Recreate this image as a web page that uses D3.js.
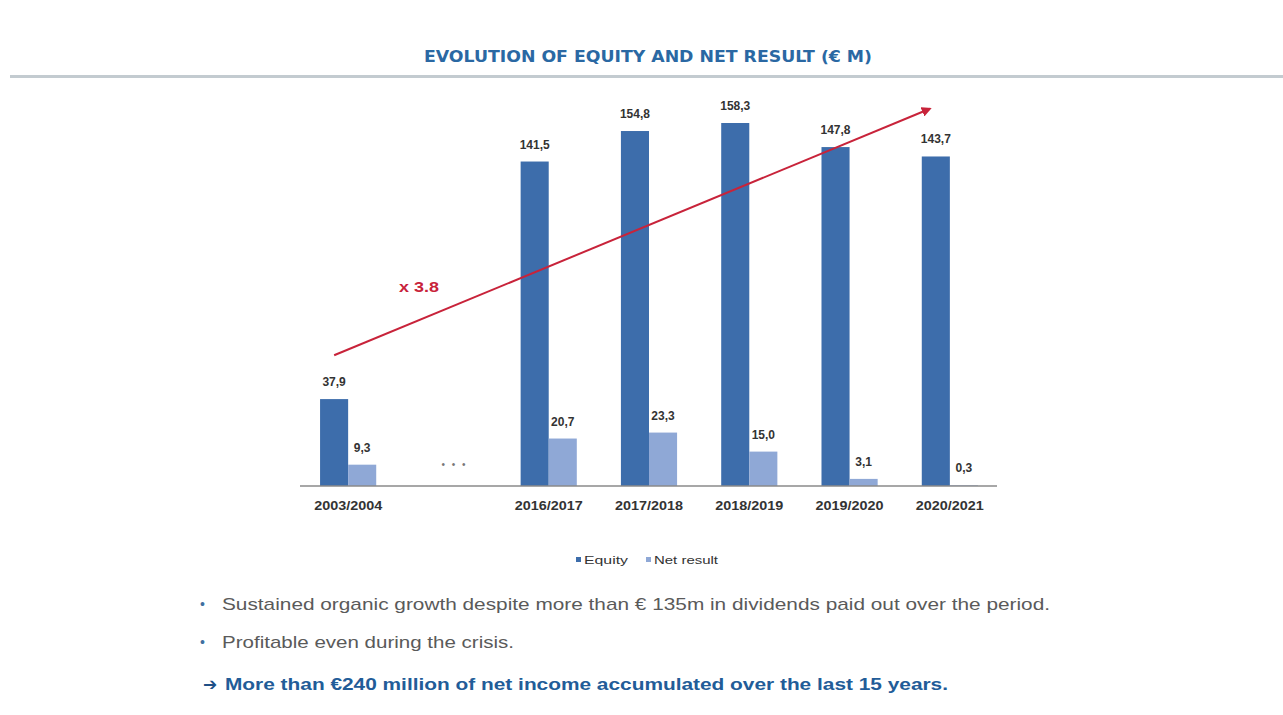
<!DOCTYPE html>
<html>
<head>
<meta charset="utf-8">
<script src="https://cdn.jsdelivr.net/npm/d3@7/dist/d3.min.js"></script>
<style>
  html, body { margin: 0; padding: 0; background: #ffffff; }
  svg { display: block; }
</style>
</head>
<body>
<svg id="chart" width="1283" height="715"></svg>
<script>
// Fiscal years; the "gap" slot stands for the skipped years between 2003/2004 and 2016/2017
const categories = ["2003/2004", "gap", "2016/2017", "2017/2018", "2018/2019", "2019/2020", "2020/2021"];
const equity    = [37.9, null, 141.5, 154.8, 158.3, 147.8, 143.7];
const netResult = [9.3,  null, 20.7,  23.3,  15.0,  3.1,   0.3];
const seriesNames = ["Equity", "Net result"];
const growthLabel = "x 3.8";
// Trend arrow endpoints in data space: [category index, value]
const trendStart = [0, 57];
const trendEnd   = [6, 164.5];

const title = "EVOLUTION OF EQUITY AND NET RESULT (€ M)";
const bullets = [
  "Sustained organic growth despite more than € 135m in dividends paid out over the period.",
  "Profitable even during the crisis."
];
const conclusion = "More than €240 million of net income accumulated over the last 15 years.";

const colors = { equity: "#3d6dab", net: "#8fa8d6", title: "#2a68a3", red: "#c8233a" };
const fmt = v => d3.format(".1f")(v).replace(".", ",");

const svg = d3.select("#chart");

// Title and rule beneath it
svg.append("text")
  .attr("x", 648).attr("y", 62)
  .attr("text-anchor", "middle")
  .attr("font-family", "'Liberation Sans Narrow', 'DejaVu Sans Condensed', 'Liberation Sans', sans-serif")
  .attr("font-weight", "bold")
  .attr("font-size", 15)
  .attr("textLength", 448)
  .attr("lengthAdjust", "spacingAndGlyphs")
  .attr("fill", colors.title)
  .text(title);

svg.append("rect")
  .attr("x", 10).attr("y", 75).attr("width", 1273).attr("height", 3)
  .attr("fill", "#c3cbd0");

// Scales
const x = d3.scaleBand().domain(categories).range([298, 1000]).paddingInner(0).paddingOuter(0);
const inner = d3.scaleBand().domain(["equity", "net"]).range([x.bandwidth() * 0.22, x.bandwidth() * 0.78]);
const y = d3.scaleLinear().domain([0, 160]).range([486, 119.1]);

const g = svg.append("g");

const rows = categories.map((c, i) => ({ c, i, equity: equity[i], net: netResult[i] }))
  .filter(d => d.equity !== null);

// Equity bars
g.selectAll("rect.eq").data(rows).join("rect")
  .attr("class", "eq")
  .attr("x", d => x(d.c) + inner("equity"))
  .attr("width", inner.bandwidth())
  .attr("y", d => y(d.equity))
  .attr("height", d => y(0) - y(d.equity))
  .attr("fill", colors.equity);

// Net result bars
g.selectAll("rect.net").data(rows).join("rect")
  .attr("class", "net")
  .attr("x", d => x(d.c) + inner("net"))
  .attr("width", inner.bandwidth())
  .attr("y", d => y(d.net))
  .attr("height", d => y(0) - y(d.net))
  .attr("fill", colors.net);

const labelFont = "'Liberation Sans', Arial, sans-serif";

// Value labels
g.selectAll("text.eqv").data(rows).join("text")
  .attr("x", d => x(d.c) + inner("equity") + inner.bandwidth() / 2)
  .attr("y", d => y(d.equity) - 13)
  .attr("text-anchor", "middle")
  .attr("font-family", labelFont).attr("font-size", 12).attr("font-weight", "bold")
  .attr("fill", "#333")
  .text(d => fmt(d.equity));

g.selectAll("text.netv").data(rows).join("text")
  .attr("x", d => x(d.c) + inner("net") + inner.bandwidth() / 2)
  .attr("y", d => y(d.net) - 13)
  .attr("text-anchor", "middle")
  .attr("font-family", labelFont).attr("font-size", 12).attr("font-weight", "bold")
  .attr("fill", "#333")
  .text(d => fmt(d.net));

// Category axis
const axis = d3.axisBottom(x).tickSize(0).tickPadding(15)
  .tickFormat(d => d === "gap" ? "" : d);
const ax = svg.append("g").attr("transform", `translate(0,${y(0)})`).call(axis);
ax.select(".domain").attr("stroke", "#8a8a8a").attr("stroke-width", 1.5)
  .attr("d", `M${x.range()[0] + 2},0H${x.range()[1] - 3}`);
ax.selectAll("text")
  .attr("font-family", labelFont).attr("font-size", 12).attr("font-weight", "bold")
  .attr("fill", "#333")
  .filter(d => d !== "gap")
  .attr("textLength", 68).attr("lengthAdjust", "spacingAndGlyphs");

// Ellipsis for the skipped years
svg.append("text")
  .attr("x", x("gap") + x.bandwidth() / 2 + 6)
  .attr("y", y(0) - 18)
  .attr("text-anchor", "middle")
  .attr("font-family", labelFont).attr("font-size", 10)
  .attr("fill", "#777")
  .attr("letter-spacing", 2)
  .text("• • •");

// Growth arrow
const defs = svg.append("defs");
defs.append("marker")
  .attr("id", "arrowhead")
  .attr("viewBox", "0 0 10 10")
  .attr("refX", 8).attr("refY", 5)
  .attr("markerWidth", 5).attr("markerHeight", 5)
  .attr("orient", "auto")
  .append("path").attr("d", "M0,0L10,5L0,10z").attr("fill", colors.red);

const cx = i => x(categories[i]) + x.bandwidth() / 2;
svg.append("line")
  .attr("x1", cx(trendStart[0]) - 14).attr("y1", y(trendStart[1]))
  .attr("x2", cx(trendEnd[0]) - 20).attr("y2", y(trendEnd[1]))
  .attr("stroke", colors.red).attr("stroke-width", 2)
  .attr("marker-end", "url(#arrowhead)");

svg.append("text")
  .attr("x", 419).attr("y", 292)
  .attr("text-anchor", "middle")
  .attr("font-family", labelFont).attr("font-weight", "bold").attr("font-size", 14)
  .attr("textLength", 40).attr("lengthAdjust", "spacingAndGlyphs")
  .attr("fill", colors.red)
  .text(growthLabel);

// Legend
const legend = svg.append("g").attr("font-family", labelFont).attr("font-size", 11).attr("fill", "#333");
const legendItems = [
  { name: seriesNames[0], color: colors.equity, x: 576, w: 44 },
  { name: seriesNames[1], color: colors.net, x: 646, w: 64 }
];
legendItems.forEach(it => {
  legend.append("rect").attr("x", it.x).attr("y", 557).attr("width", 5).attr("height", 5).attr("fill", it.color);
  legend.append("text").attr("x", it.x + 8).attr("y", 564)
    .attr("textLength", it.w).attr("lengthAdjust", "spacingAndGlyphs").text(it.name);
});

// Commentary
const bodyFont = "'Liberation Sans', Arial, sans-serif";
const bulletWidths = [828, 292];
bullets.forEach((b, i) => {
  const yy = 610 + i * 38;
  svg.append("text").attr("x", 200).attr("y", yy - 1)
    .attr("font-family", bodyFont).attr("font-size", 14).attr("fill", "#3f6f9f").text("•");
  svg.append("text").attr("x", 222).attr("y", yy)
    .attr("font-family", bodyFont).attr("font-size", 17).attr("fill", "#5a5a5a")
    .attr("textLength", bulletWidths[i]).attr("lengthAdjust", "spacingAndGlyphs")
    .text(b);
});
svg.append("text").attr("x", 203).attr("y", 690)
  .attr("font-family", "'DejaVu Sans', sans-serif").attr("font-weight", "bold").attr("font-size", 17)
  .attr("fill", "#1f4f86").text("➔");
svg.append("text").attr("x", 225).attr("y", 690)
  .attr("font-family", bodyFont).attr("font-weight", "bold").attr("font-size", 17)
  .attr("textLength", 723).attr("lengthAdjust", "spacingAndGlyphs")
  .attr("fill", "#225c98").text(conclusion);
</script>
</body>
</html>
